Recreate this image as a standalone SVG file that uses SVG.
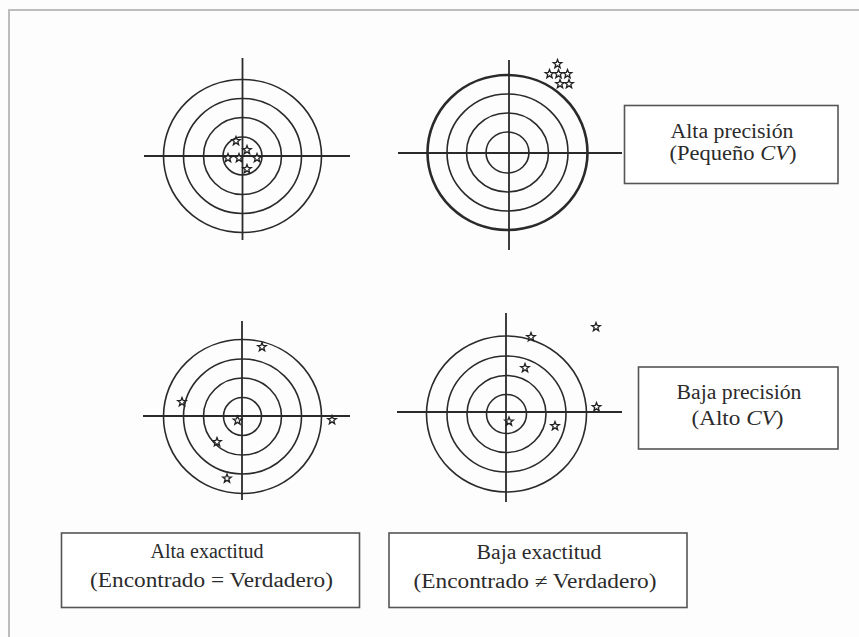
<svg xmlns="http://www.w3.org/2000/svg" xmlns:xlink="http://www.w3.org/1999/xlink" width="859" height="637" viewBox="0 0 859 637">
<defs>
<style>
.ring{fill:none;stroke:#2a2a2a;stroke-width:1.6}
.bold{stroke-width:2.6}
.axis{stroke:#2a2a2a;stroke-width:1.8}
.box{fill:#fff;stroke:#555;stroke-width:1.6}
.lbl{font-family:"Liberation Serif","Times New Roman",serif;font-size:20px;fill:#2b2b2b;text-anchor:middle}
.it{font-style:italic}
.star{fill:#fff;stroke:#222;stroke-width:1.3}
</style>
<path id="st" class="star" d="M0,-4.5 L1.12,-1.54 L4.28,-1.39 L1.81,0.59 L2.65,3.64 L0,1.9 L-2.65,3.64 L-1.81,0.59 L-4.28,-1.39 L-1.12,-1.54 Z"/>
</defs>
<rect width="859" height="637" fill="#fdfdfd"/>
<path d="M9,637 V10 H859" fill="none" stroke="#bdbdbd" stroke-width="2"/>

<g id="target-high-acc-high-prec">
<ellipse class="ring" cx="242.5" cy="156" rx="79" ry="76.5"/>
<ellipse class="ring" cx="242.5" cy="156" rx="59" ry="57.5"/>
<ellipse class="ring" cx="242.5" cy="156" rx="39" ry="38.5"/>
<ellipse class="ring" cx="242.5" cy="156" rx="19.5" ry="19"/>
<line class="axis" x1="144" y1="156" x2="350" y2="156"/>
<line class="axis" x1="242.5" y1="58" x2="242.5" y2="240"/>
<use xlink:href="#st" x="236" y="141"/>
<use xlink:href="#st" x="247" y="150"/>
<use xlink:href="#st" x="228" y="158"/>
<use xlink:href="#st" x="239" y="158"/>
<use xlink:href="#st" x="257" y="158"/>
<use xlink:href="#st" x="247" y="169"/>
</g>

<g id="target-low-acc-high-prec">
<ellipse class="ring bold" cx="507.5" cy="152.5" rx="80" ry="77.5"/>
<ellipse class="ring" cx="507.5" cy="152.5" rx="60.5" ry="58.5"/>
<ellipse class="ring" cx="507.5" cy="152.5" rx="41" ry="39.5"/>
<ellipse class="ring" cx="507.5" cy="152.5" rx="21.5" ry="20.5"/>
<line class="axis" x1="398" y1="153" x2="622" y2="153"/>
<line class="axis" x1="509" y1="60" x2="509" y2="250"/>
<use xlink:href="#st" x="557.5" y="64"/>
<use xlink:href="#st" x="549.5" y="74"/>
<use xlink:href="#st" x="558.5" y="74"/>
<use xlink:href="#st" x="567.5" y="74"/>
<use xlink:href="#st" x="560" y="84"/>
<use xlink:href="#st" x="569" y="84"/>
</g>

<g id="target-high-acc-low-prec">
<ellipse class="ring" cx="242.5" cy="416.5" rx="79" ry="77"/>
<ellipse class="ring" cx="242.5" cy="416.5" rx="59" ry="57.5"/>
<ellipse class="ring" cx="242.5" cy="416.5" rx="39" ry="38.5"/>
<ellipse class="ring" cx="242.5" cy="416.5" rx="19" ry="19"/>
<line class="axis" x1="143" y1="416" x2="350" y2="416"/>
<line class="axis" x1="242" y1="321" x2="242" y2="500"/>
<use xlink:href="#st" x="262" y="347"/>
<use xlink:href="#st" x="182" y="402"/>
<use xlink:href="#st" x="332" y="420"/>
<use xlink:href="#st" x="237.5" y="420.5"/>
<use xlink:href="#st" x="217" y="442"/>
<use xlink:href="#st" x="227" y="478.5"/>
</g>

<g id="target-low-acc-low-prec">
<ellipse class="ring" cx="506.5" cy="414" rx="80" ry="78"/>
<ellipse class="ring" cx="506.5" cy="414" rx="59.5" ry="58"/>
<ellipse class="ring" cx="506.5" cy="414" rx="39.5" ry="38.5"/>
<ellipse class="ring" cx="506.5" cy="414" rx="20" ry="19.5"/>
<line class="axis" x1="397" y1="412" x2="622" y2="412"/>
<line class="axis" x1="506" y1="313" x2="506" y2="502"/>
<use xlink:href="#st" x="531" y="337"/>
<use xlink:href="#st" x="596" y="327"/>
<use xlink:href="#st" x="525" y="368"/>
<use xlink:href="#st" x="596.5" y="407"/>
<use xlink:href="#st" x="509" y="421.5"/>
<use xlink:href="#st" x="555" y="426"/>
</g>

<g id="box-alta-precision">
<rect class="box" x="624.5" y="105.5" width="213.5" height="78"/>
<text class="lbl" x="732" y="138" textLength="123" lengthAdjust="spacingAndGlyphs">Alta precisión</text>
<text class="lbl" x="733" y="160" textLength="127" lengthAdjust="spacingAndGlyphs">(Pequeño <tspan class="it">CV</tspan>)</text>
</g>

<g id="box-baja-precision">
<rect class="box" x="638.5" y="367" width="199.5" height="82"/>
<text class="lbl" x="739" y="399" textLength="125" lengthAdjust="spacingAndGlyphs">Baja precisión</text>
<text class="lbl" x="737.5" y="425" textLength="92" lengthAdjust="spacingAndGlyphs">(Alto <tspan class="it">CV</tspan>)</text>
</g>

<g id="box-alta-exactitud">
<rect class="box" x="61.5" y="533" width="298" height="74.5"/>
<text class="lbl" x="207" y="558" textLength="113" lengthAdjust="spacingAndGlyphs">Alta exactitud</text>
<text class="lbl" x="211.5" y="587" textLength="243" lengthAdjust="spacingAndGlyphs">(Encontrado = Verdadero)</text>
</g>

<g id="box-baja-exactitud">
<rect class="box" x="389" y="533" width="298" height="74.5"/>
<text class="lbl" x="539" y="558.5" textLength="125" lengthAdjust="spacingAndGlyphs">Baja exactitud</text>
<text class="lbl" x="535" y="587.5" textLength="243" lengthAdjust="spacingAndGlyphs">(Encontrado ≠ Verdadero)</text>
</g>

<g id="connectors"/>
</svg>
